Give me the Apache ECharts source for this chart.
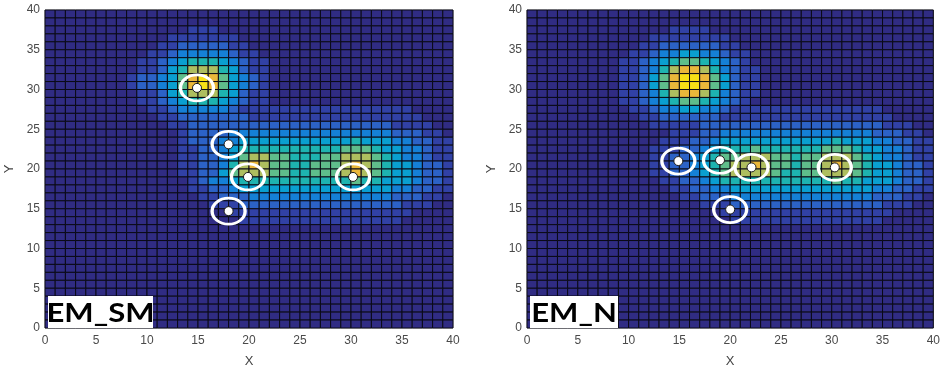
<!DOCTYPE html>
<html>
<head>
<meta charset="utf-8">
<script src="https://cdn.jsdelivr.net/npm/echarts@6/dist/echarts.min.js"></script>
<style>
  html, body { margin: 0; padding: 0; background: #fff; }
  #main { width: 943px; height: 373px; }
</style>
</head>
<body>
<div id="main"></div>
<script>
// colour level per cell (0 = navy ... 9 = yellow)
// one string per row, top row (y 39..40) first, groups of 10 columns
var smRows = [
  '0000000000 0000000000 0000000000 0000000000',
  '0000000000 0000000000 0000000000 0000000000',
  '0000000000 0000111000 0000000000 0000000000',
  '0000000000 0011111110 0000000000 0000000000',
  '0000000000 0112222211 0000000000 0000000000',
  '0000000000 1123333321 1000000000 0000000000',
  '0000000001 1234555432 1100000000 0000000000',
  '0000000001 1245777542 1100000000 0000000000',
  '0000000012 2346898643 2100000000 0000000000',
  '0000000012 2346898643 2100000000 0000000000',
  '0000000001 1245777542 1100000000 0000000000',
  '0000000001 1234555432 1100000000 0000000000',
  '0000000000 1123333321 1111111111 1111110000',
  '0000000000 0112222222 1111111111 1111111000',
  '0000000000 0011222222 2222222222 2222111100',
  '0000000000 0001222233 3333333333 3333222110',
  '0000000000 0001222334 4444444444 5444332211',
  '0000000000 0001122345 5555555556 6654433211',
  '0000000000 0001122346 7766555667 7765433211',
  '0000000000 0001122357 8766556667 8765443221',
  '0000000000 0001122467 7766556667 8765443221',
  '0000000000 0000123345 5555555555 6554443221',
  '0000000000 0000112234 4444444444 4444332211',
  '0000000000 0000011222 3333333333 3333222110',
  '0000000000 0000001112 2222222222 2222211100',
  '0000000000 0000000011 1111111111 1111110000',
  '0000000000 0000000001 1111111111 1111100000',
  '0000000000 0000000000 0000000000 0000000000',
  '0000000000 0000000000 0000000000 0000000000',
  '0000000000 0000000000 0000000000 0000000000',
  '0000000000 0000000000 0000000000 0000000000',
  '0000000000 0000000000 0000000000 0000000000',
  '0000000000 0000000000 0000000000 0000000000',
  '0000000000 0000000000 0000000000 0000000000',
  '0000000000 0000000000 0000000000 0000000000',
  '0000000000 0000000000 0000000000 0000000000',
  '0000000000 0000000000 0000000000 0000000000',
  '0000000000 0000000000 0000000000 0000000000',
  '0000000000 0000000000 0000000000 0000000000',
  '0000000000 0000000000 0000000000 0000000000'
];

var nRows = [
  '0000000000 0000000000 0000000000 0000000000',
  '0000000000 0000000000 0000000000 0000000000',
  '0000000000 0000111100 0000000000 0000000000',
  '0000000000 0011111111 0000000000 0000000000',
  '0000000000 0112222221 1000000000 0000000000',
  '0000000000 1123344332 1100000000 0000000000',
  '0000000001 1234566543 2100000000 0000000000',
  '0000000001 1235788753 2110000000 0000000000',
  '0000000001 1246899864 2110000000 0000000000',
  '0000000001 1246899864 2110000000 0000000000',
  '0000000001 1235788753 2110000000 0000000000',
  '0000000001 1234566543 2100000000 0000000000',
  '0000000000 1123344332 1111111111 1111100000',
  '0000000000 0112222221 1111111111 1111110000',
  '0000000000 0011111222 2222222222 2222211100',
  '0000000000 0000111223 3333333333 3333222110',
  '0000000000 0001112234 4444444444 5444332211',
  '0000000000 0011122345 5565555556 6654433211',
  '0000000000 0011223456 6777665667 7765433211',
  '0000000000 0011223456 7787665667 8765443221',
  '0000000000 0011223456 7777655667 7765443221',
  '0000000000 0001122345 5555555555 6554443221',
  '0000000000 0000112233 4444444444 4444332211',
  '0000000000 0000011222 3333333333 3333222110',
  '0000000000 0000000111 2222222222 2222211100',
  '0000000000 0000000001 1111111111 1111110000',
  '0000000000 0000000000 1111111111 1111100000',
  '0000000000 0000000000 0000000000 0000000000',
  '0000000000 0000000000 0000000000 0000000000',
  '0000000000 0000000000 0000000000 0000000000',
  '0000000000 0000000000 0000000000 0000000000',
  '0000000000 0000000000 0000000000 0000000000',
  '0000000000 0000000000 0000000000 0000000000',
  '0000000000 0000000000 0000000000 0000000000',
  '0000000000 0000000000 0000000000 0000000000',
  '0000000000 0000000000 0000000000 0000000000',
  '0000000000 0000000000 0000000000 0000000000',
  '0000000000 0000000000 0000000000 0000000000',
  '0000000000 0000000000 0000000000 0000000000',
  '0000000000 0000000000 0000000000 0000000000'
];

// circled points (x, y)
var smPoints = [[14.9, 30.2], [18.0, 23.1], [19.9, 19.0], [30.2, 19.0], [18.0, 14.7]];
var nPoints = [[14.9, 21.0], [19.0, 21.1], [22.1, 20.2], [30.3, 20.2], [20.0, 14.9]];

var panelNames = ['EM_SM', 'EM_N'];

var palette = ['#302c83', '#3141a5', '#2c62c6', '#1580d6', '#0a9fd0',
               '#1eb3b0', '#5fbd8b', '#aebe5f', '#eab73a', '#f7e016'];

var chart = echarts.init(document.getElementById('main'));

function toCells(rows) {
  var data = [];
  rows.forEach(function (row, i) {
    var s = row.replace(/ /g, '');
    var y = rows.length - 1 - i;
    for (var x = 0; x < s.length; x++) {
      data.push([x, y, +s[x]]);
    }
  });
  return data;
}

function renderCell(params, api) {
  var x = api.value(0), y = api.value(1);
  var p0 = api.coord([x, y + 1]);
  var p1 = api.coord([x + 1, y]);
  return {
    type: 'rect',
    shape: { x: p0[0], y: p0[1], width: p1[0] - p0[0], height: p1[1] - p0[1] },
    style: { fill: palette[api.value(2)], stroke: '#0a0a16', lineWidth: 1 }
  };
}

var lblFont = 'Liberation Sans';

function xAxisFor(i) {
  return {
    gridIndex: i, type: 'value', min: 0, max: 40, interval: 5,
    name: 'X', nameLocation: 'middle', nameGap: 27,
    nameTextStyle: { color: '#444', fontSize: 13, fontFamily: lblFont },
    axisLine: { show: false }, axisTick: { show: false }, splitLine: { show: false },
    axisLabel: { color: '#4a4a4a', fontSize: 12, fontFamily: lblFont, margin: 7 }
  };
}
function yAxisFor(i) {
  return {
    gridIndex: i, type: 'value', min: 0, max: 40, interval: 5,
    name: 'Y', nameLocation: 'middle', nameGap: 29, nameRotate: 90,
    nameTextStyle: { color: '#444', fontSize: 13, fontFamily: lblFont },
    axisLine: { show: false }, axisTick: { show: false }, splitLine: { show: false },
    axisLabel: { color: '#4a4a4a', fontSize: 12, fontFamily: lblFont, margin: 5 }
  };
}

var grids = [
  { left: 45, top: 10, width: 408, height: 321 },
  { left: 527, top: 10, width: 408, height: 321 }
];

var series = [];
[smRows, nRows].forEach(function (rows, i) {
  series.push({
    type: 'custom', xAxisIndex: i, yAxisIndex: i,
    renderItem: renderCell, data: toCells(rows), silent: true
  });
});
[smPoints, nPoints].forEach(function (pts, i) {
  series.push({
    type: 'scatter', xAxisIndex: i, yAxisIndex: i, z: 3, silent: true,
    symbol: 'circle', symbolSize: [33, 26], data: pts,
    itemStyle: { color: 'rgba(0,0,0,0)', borderColor: '#fff', borderWidth: 3, opacity: 1 }
  });
  series.push({
    type: 'scatter', xAxisIndex: i, yAxisIndex: i, z: 4, silent: true,
    symbol: 'circle', symbolSize: 9, data: pts,
    itemStyle: { color: '#fff', borderColor: '#1a1a1a', borderWidth: 1, opacity: 1 }
  });
});

var graphics = [];
panelNames.forEach(function (name, i) {
  var x0 = grids[i].left + 3;
  var w = i === 0 ? 105 : 88;
  graphics.push({
    type: 'rect', z: 10, left: x0, top: 296,
    shape: { width: w, height: 32 }, style: { fill: '#fff' }
  });
  graphics.push({
    type: 'text', z: 11, x: x0 + w / 2, y: 313, scaleX: 1.15,
    style: {
      text: name, fill: '#000', align: 'center', verticalAlign: 'middle',
      font: 'bold 27px Lato'
    }
  });
});

chart.setOption({
  animation: false,
  grid: grids.map(function (g) {
    return Object.assign({ show: true, borderColor: '#a6a6a6', borderWidth: 1 }, g);
  }),
  xAxis: [xAxisFor(0), xAxisFor(1)],
  yAxis: [yAxisFor(0), yAxisFor(1)],
  series: series,
  graphic: graphics
});
</script>
</body>
</html>
